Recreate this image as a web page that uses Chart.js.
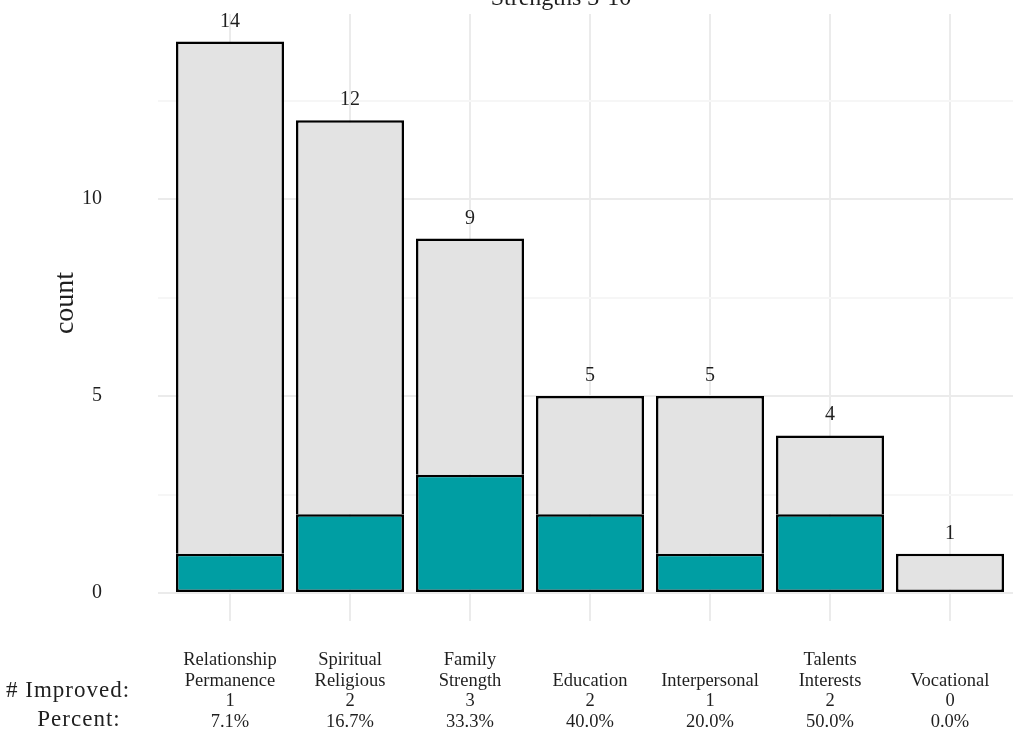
<!DOCTYPE html>
<html>
<head>
<meta charset="utf-8">
<script src="https://cdn.jsdelivr.net/npm/chart.js@4"></script>
<style>
    html, body { margin: 0; padding: 0; background: #ffffff; }
    #grafico { display: block; }
</style>
</head>
<body>
<canvas id="grafico" width="1013" height="748"></canvas>
<script>
// Dados do gráfico
const categorias = [
    ['Relationship', 'Permanence'],
    ['Spiritual', 'Religious'],
    ['Family', 'Strength'],
    ['', 'Education'],
    ['', 'Interpersonal'],
    ['Talents', 'Interests'],
    ['', 'Vocational']
];
const melhorados = [1, 2, 3, 2, 1, 2, 0];
const naoMelhorados = [13, 10, 6, 3, 4, 2, 1];
const totais = [14, 12, 9, 5, 5, 4, 1];
const percentuais = ['7.1%', '16.7%', '33.3%', '40.0%', '20.0%', '50.0%', '0.0%'];
const ticksY = [0, 2.5, 5, 7.5, 10, 12.5];

const FONTE = '"Liberation Serif", "Times New Roman", serif';
const TEXTO = '#1f1f1f';

// Textos extras: totais acima das barras, título, rótulos das linhas e "count"
const textosExtras = {
    id: 'textosExtras',
    afterDatasetsDraw(chart) {
        const { ctx, scales: { x, y } } = chart;
        ctx.save();
        ctx.fillStyle = TEXTO;
        ctx.textAlign = 'center';
        ctx.textBaseline = 'alphabetic';

        ctx.font = `20px ${FONTE}`;
        totais.forEach((total, i) => {
            ctx.fillText(String(total), x.getPixelForValue(i), y.getPixelForValue(total) - 15);
        });

        ctx.font = `24px ${FONTE}`;
        ctx.fillText('Strengths 3-10', 561, 5);

        // rótulos das linhas da tabela abaixo do eixo
        ctx.font = `23px ${FONTE}`;
        ctx.letterSpacing = '1px';
        ctx.fillText('# Improved:', 68, 697);
        ctx.fillText('Percent:', 79, 726);
        ctx.letterSpacing = '0px';

        ctx.translate(73, 303);
        ctx.rotate(-Math.PI / 2);
        ctx.font = `28px ${FONTE}`;
        ctx.fillText('count', 0, 0);
        ctx.restore();
    }
};

const ctx = document.getElementById('grafico');

new Chart(ctx, {
    type: 'bar',
    data: {
        datasets: [{
            label: 'Improved',
            data: melhorados.map((v, i) => ({ x: i, y: v })),
            backgroundColor: '#009ea3',
            borderColor: '#000000',
            borderWidth: 2.5,
            borderSkipped: false,
            barPercentage: 0.9,
            categoryPercentage: 1
        }, {
            label: 'Not improved',
            data: naoMelhorados.map((v, i) => ({ x: i, y: v })),
            backgroundColor: '#e3e3e3',
            borderColor: '#000000',
            borderWidth: 2.5,
            borderSkipped: c => melhorados[c.dataIndex] > 0 ? 'bottom' : false,
            barPercentage: 0.9,
            categoryPercentage: 1
        }]
    },
    options: {
        responsive: false,
        devicePixelRatio: 1,
        animation: false,
        layout: { padding: { top: 14, left: 0, right: 0, bottom: 0 } },
        plugins: {
            legend: { display: false },
            tooltip: { enabled: false },
            title: { display: false }
        },
        scales: {
            x: {
                type: 'linear',
                stacked: true,
                offset: false,
                min: -0.6,
                max: 6.525,
                afterBuildTicks: scale => {
                    scale.ticks = categorias.map((_, i) => ({ value: i }));
                },
                afterFit: scale => {
                    scale.height = 127.4;
                    scale.paddingLeft = 0;
                    scale.paddingRight = 0;
                },
                grid: { color: '#ebebeb', lineWidth: 2, drawTicks: false, offset: false },
                border: { display: false },
                ticks: {
                    autoSkip: false,
                    maxRotation: 0,
                    padding: 29,
                    color: TEXTO,
                    font: { family: FONTE, size: 18.5, lineHeight: 1.12 },
                    callback: value => [...categorias[value], String(melhorados[value]), percentuais[value]]
                }
            },
            y: {
                stacked: true,
                min: -0.7,
                max: 14.7,
                afterBuildTicks: scale => {
                    scale.ticks = ticksY.map(v => ({ value: v }));
                },
                afterFit: scale => {
                    scale.width = 158;
                    scale.paddingTop = 0;
                    scale.paddingBottom = 0;
                },
                grid: {
                    color: c => (c.tick && c.tick.value % 5 === 0) ? '#ebebeb' : '#f6f6f6',
                    lineWidth: 2,
                    drawTicks: false
                },
                border: { display: false },
                ticks: {
                    padding: 56,
                    color: TEXTO,
                    font: { family: FONTE, size: 20 },
                    callback: value => value % 5 === 0 ? String(value) : ''
                }
            }
        }
    },
    plugins: [textosExtras]
});
</script>
</body>
</html>
